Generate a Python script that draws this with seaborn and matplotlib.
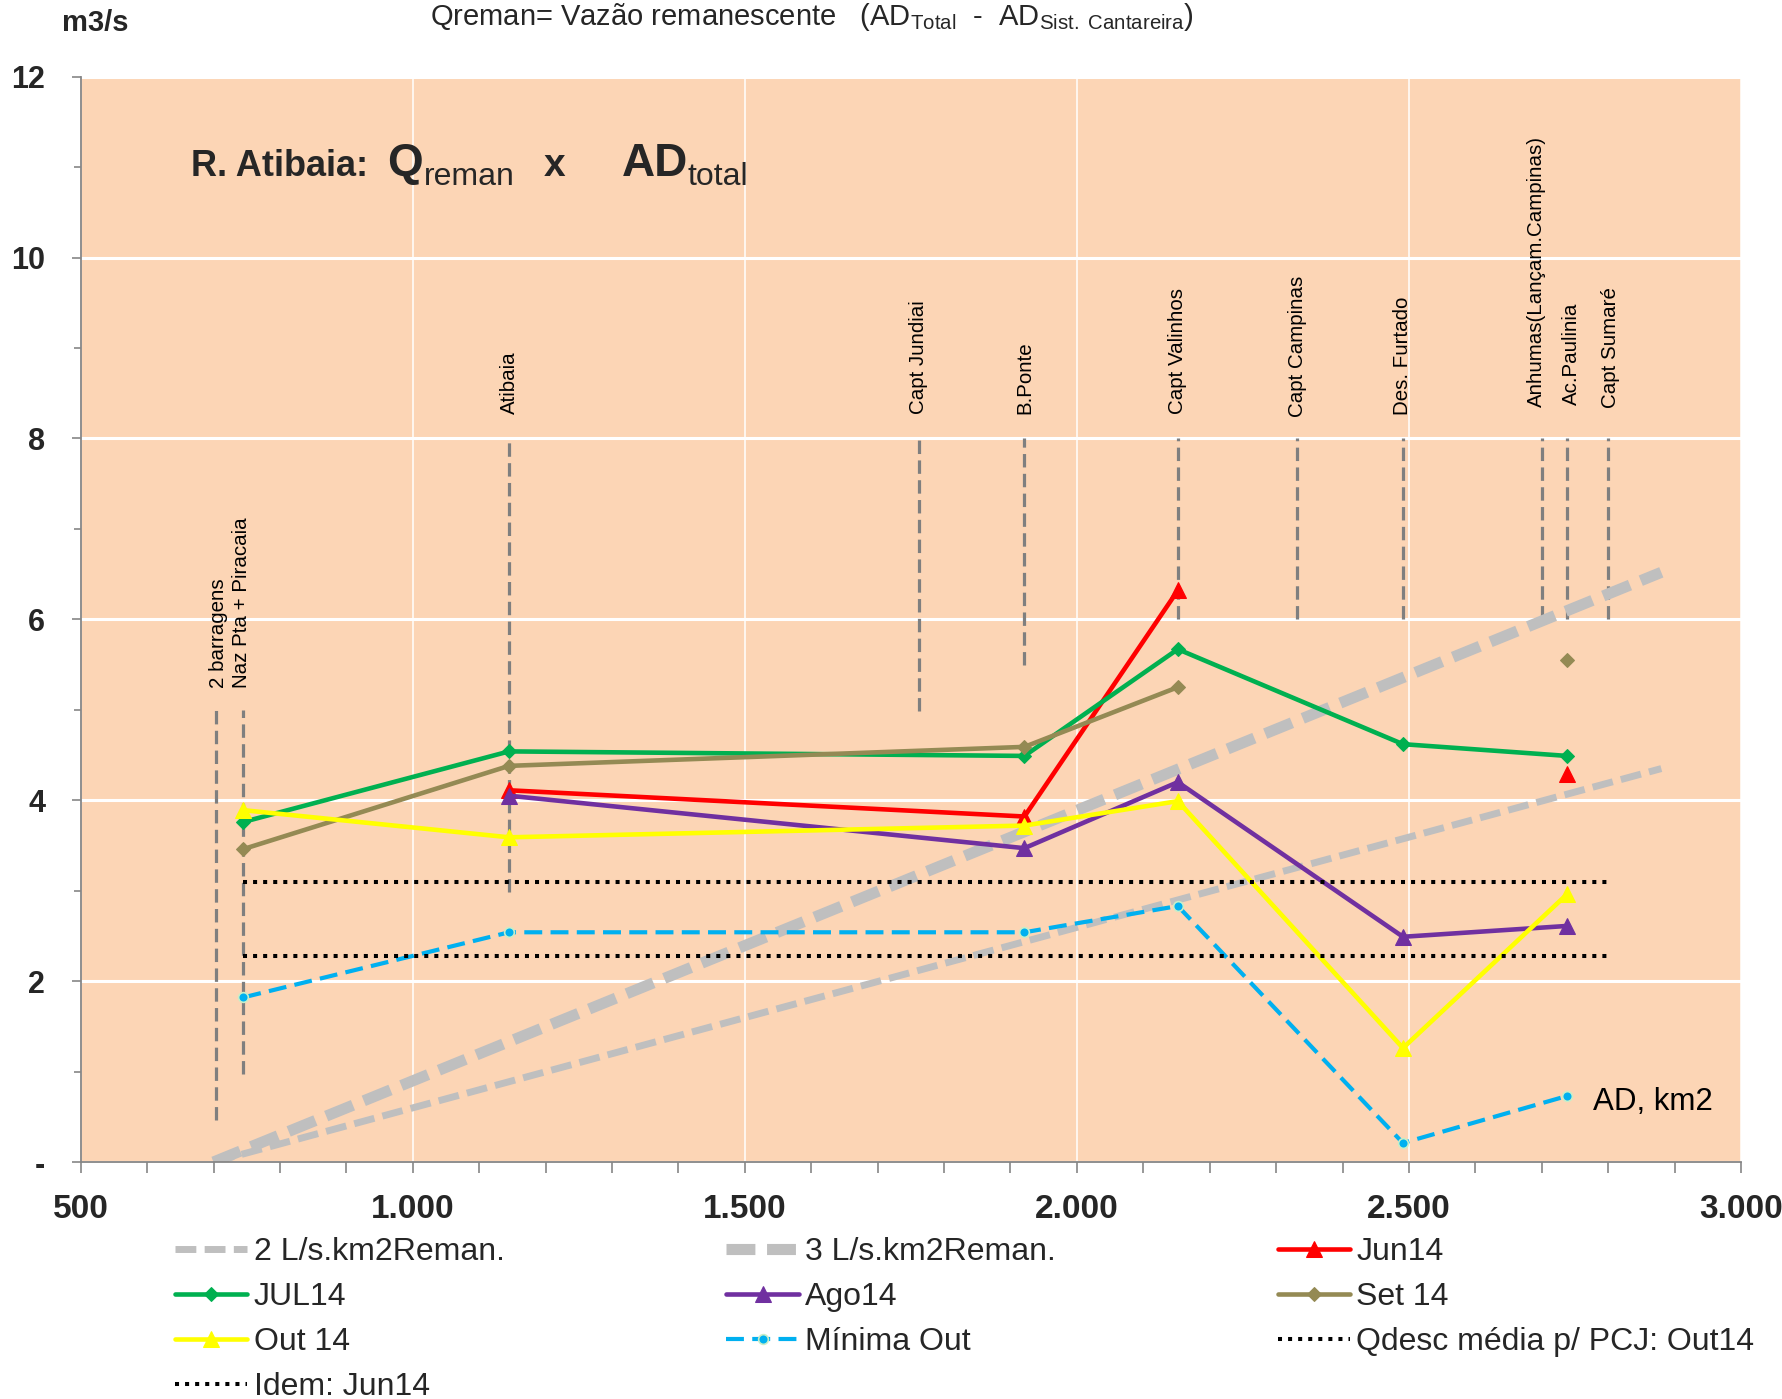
import numpy as np
import pandas as pd
import matplotlib
matplotlib.use("Agg")
import matplotlib.pyplot as plt
from matplotlib import font_manager
from matplotlib.ticker import MultipleLocator, FuncFormatter
import seaborn as sns

# ---------------------------------------------------------------------------
# Data: remaining flow (m3/s) along the Atibaia river vs drainage area (km2)
# ---------------------------------------------------------------------------
# Sampling points: Naz Pta, Atibaia, B.Ponte, Capt Valinhos, Des. Furtado, Ac.Paulinia
ad_points = [745, 1145, 1921, 2152, 2491, 2738]

jun14 = [np.nan, 4.11, 3.82, 6.32, np.nan, 4.29]
jul14 = [3.76, 4.54, 4.49, 5.67, 4.62, 4.49]
ago14 = [np.nan, 4.05, 3.47, 4.20, 2.49, 2.61]
set14 = [3.46, 4.38, 4.59, 5.25, np.nan, 5.55]
out14 = [3.89, 3.59, 3.72, 3.99, 1.26, 2.96]
minima_out = [1.82, 2.54, 2.54, 2.83, 0.21, 0.73]

# Specific-yield reference lines (remaining area)
ref_ad = [700, 2880]
ref_2ls = [0.0, 4.35]
ref_3ls = [0.0, 6.52]

# Mean release to PCJ
qdesc_ad = [745, 2800]
qdesc_out14 = [3.10, 3.10]
qdesc_jun14 = [2.28, 2.28]

# Landmarks along the river (drainage area) and the span of their marker lines
landmark_ad = [704, 745, 1145, 1762, 1921, 2152, 2332, 2491, 2700, 2738, 2800]
landmark_top = [5.0, 5.0, 8.0, 8.0, 8.0, 8.0, 8.0, 8.0, 8.0, 8.0, 8.0]
landmark_bottom = [0.46, 0.97, 2.98, 4.99, 5.49, 6.0, 6.0, 6.0, 6.0, 6.0, 6.0]

landmark_names = ["Atibaia", "Capt Jundiai", "B.Ponte", "Capt Valinhos",
                  "Capt Campinas", "Des. Furtado", "Anhumas(Lançam.Campinas)",
                  "Ac.Paulinia", "Capt Sumaré"]
landmark_label_ad = [1145, 1762, 1921, 2152, 2332, 2491, 2692, 2744, 2803]
landmark_label_y = [8.27, 8.27, 8.27, 8.27, 8.24, 8.26, 8.35, 8.37, 8.34]
dams_label = "2 barragens\nNaz Pta + Piracaia"
dams_label_ad = 725
dams_label_y = 5.24

x_ticks = [500, 1000, 1500, 2000, 2500, 3000]
y_ticks = [0, 2, 4, 6, 8, 10, 12]

# ---------------------------------------------------------------------------
# Style
# ---------------------------------------------------------------------------
sns.set_theme(style="white")


def available(family):
    try:
        font_manager.findfont(font_manager.FontProperties(family=family),
                              fallback_to_default=False)
        return True
    except ValueError:
        return False


BASE = "Liberation Sans" if available("Liberation Sans") else "DejaVu Sans"
NARROW = "Liberation Sans Narrow" if available("Liberation Sans Narrow") else BASE

plt.rcParams["font.family"] = [BASE, "DejaVu Sans"]
plt.rcParams["mathtext.fontset"] = "custom"
plt.rcParams["mathtext.rm"] = BASE
plt.rcParams["mathtext.it"] = BASE + ":italic"
plt.rcParams["mathtext.bf"] = BASE + ":bold"

W, H = 1783, 1399
fig = plt.figure(figsize=(W / 100, H / 100), dpi=100)
fig.patch.set_facecolor("white")


def fx(px):
    return px / W


def fy(py):
    return 1 - py / H


ax_l, ax_r, ax_t, ax_b = 80.7, 1741.0, 76.7, 1162.0
ax = fig.add_axes([fx(ax_l), fy(ax_b), (ax_r - ax_l) / W, (ax_b - ax_t) / H])
ax.set_facecolor("#FCD5B5")

GREY = "#868686"


def draw_series(x, y, label, **style):
    """Draw a series, breaking the line where values are missing."""
    s = pd.Series(y, index=x, dtype=float)
    valid = s.notna()
    runs = (~valid).cumsum()[valid]
    first = True
    for _, seg in s[valid].groupby(runs):
        df = pd.DataFrame({"AD": seg.index.values, "Q": seg.values})
        sns.lineplot(data=df, x="AD", y="Q", ax=ax, estimator=None, sort=False,
                     legend=False, label=label if first else "_nolegend_",
                     **style)
        first = False


# Reference lines
draw_series(ref_ad, ref_2ls, "2 L/s.km2Reman.", color="#BFBFBF", lw=5.0,
            linestyle=(0, (3.0, 1.2)), zorder=2)
draw_series(ref_ad, ref_3ls, "3 L/s.km2Reman.", color="#BFBFBF", lw=8.0,
            linestyle=(0, (2.6, 1.05)), zorder=2)

# Landmark lines
for xa, y0, y1 in zip(landmark_ad, landmark_bottom, landmark_top):
    ax.plot([xa, xa], [y0, y1], color="#7F7F7F", lw=2.3,
            linestyle=(0, (4.2, 2.0)), zorder=1.8)

# Monthly series
draw_series(ad_points, jun14, "Jun14", color="#FF0000", lw=3.3, marker="^",
            markersize=12, markeredgecolor="#FF0000", zorder=3)
draw_series(ad_points, jul14, "JUL14", color="#00B050", lw=3.3, marker="D",
            markersize=7.5, markeredgecolor="#00B050", zorder=3)
draw_series(ad_points, ago14, "Ago14", color="#7030A0", lw=3.3, marker="^",
            markersize=12, markeredgecolor="#7030A0", zorder=3)
draw_series(ad_points, set14, "Set 14", color="#948A54", lw=3.3, marker="D",
            markersize=7.5, markeredgecolor="#948A54", zorder=3)
draw_series(ad_points, out14, "Out 14", color="#FFFF00", lw=3.3, marker="^",
            markersize=11.5, markeredgecolor="#FFFF00", zorder=3)
draw_series(ad_points, minima_out, "Mínima Out", color="#00B0F0", lw=3.0,
            linestyle=(0, (4.3, 2.0)), marker="o", markersize=7,
            markeredgecolor="#C8EEC8", markeredgewidth=1.2, zorder=3)

# Release levels
draw_series(qdesc_ad, qdesc_out14, "Qdesc média p/ PCJ: Out14", color="black",
            lw=2.9, linestyle=(0, (1.0, 1.5)), zorder=3.2)
draw_series(qdesc_ad, qdesc_jun14, "Idem: Jun14", color="black",
            lw=2.9, linestyle=(0, (1.0, 1.5)), zorder=3.2)

# Landmark labels
for name, xa, ya in zip(landmark_names, landmark_label_ad, landmark_label_y):
    ax.text(xa, ya, name, rotation=90, ha="center", va="bottom",
            fontsize=14.8, color="black", zorder=4)
ax.text(dams_label_ad, dams_label_y, dams_label, rotation=90, ha="center",
        va="bottom", fontsize=14.8, color="black", linespacing=1.3,
        multialignment="left", zorder=4)

ax.text(2777, 0.575, "AD, km2", fontsize=22.5, ha="left", va="baseline",
        color="black", zorder=4)

# Axes, grid and ticks
ax.set_xlim(500, 3000)
ax.set_ylim(0, 12)
ax.set_xlabel("")
ax.set_ylabel("")
ax.set_xticks(x_ticks)
ax.set_yticks(y_ticks)
ax.xaxis.set_minor_locator(MultipleLocator(100))
ax.yaxis.set_minor_locator(MultipleLocator(1))
ax.xaxis.set_major_formatter(FuncFormatter(lambda v, p: f"{int(v):,}".replace(",", ".")))
ax.yaxis.set_major_formatter(FuncFormatter(lambda v, p: "-" if v == 0 else f"{int(v)}"))
ax.set_axisbelow(True)
ax.grid(False)
ax.yaxis.grid(True, which="major", color="white", lw=2.2)
ax.xaxis.grid(True, which="major", color="white", lw=1.1)

for side in ["top", "right"]:
    ax.spines[side].set_visible(False)
for side in ["left", "bottom"]:
    ax.spines[side].set_color(GREY)
    ax.spines[side].set_linewidth(1.3)

ax.tick_params(axis="x", which="both", direction="out", bottom=True, length=8,
               width=1.2, color=GREY, pad=15)
ax.tick_params(axis="y", which="major", direction="out", left=True, length=6.5,
               width=1.2, color=GREY, pad=19)
ax.tick_params(axis="y", which="minor", direction="out", left=True, length=5,
               width=1.2, color=GREY)
for lab in ax.get_xticklabels():
    lab.set_fontfamily([NARROW, BASE])
    lab.set_fontweight("bold")
    lab.set_fontsize(24 if NARROW == BASE else 26)
for lab in ax.get_yticklabels():
    lab.set_fontweight("bold")
    lab.set_fontsize(22)

# Headings
fig.text(fx(62), fy(31), "m3/s", fontsize=21, fontweight="bold",
         ha="left", va="baseline")
fig.text(fx(430), fy(25),
         r"Qreman= Vazão remanescente   (AD$_{\mathrm{Total}}$  -  "
         r"AD$_{\mathrm{Sist.\ Cantareira}}$)",
         fontsize=21, ha="left", va="baseline")

fig.text(fx(191), fy(176), "R. Atibaia:", fontsize=26, fontweight="bold",
         ha="left", va="baseline")
fig.text(fx(387), fy(176), "Q", fontsize=33, fontweight="bold",
         ha="left", va="baseline")
fig.text(fx(424), fy(185), "reman", fontsize=23, ha="left", va="baseline")
fig.text(fx(544), fy(176), "x", fontsize=28, fontweight="bold",
         ha="left", va="baseline")
fig.text(fx(622), fy(176), "AD", fontsize=33, fontweight="bold",
         ha="left", va="baseline")
fig.text(fx(688), fy(185), "total", fontsize=23, ha="left", va="baseline")

# Legend (3 columns, filled row by row)
handles, labels = ax.get_legend_handles_labels()
lookup = dict(zip(labels, handles))
order = ["2 L/s.km2Reman.", "JUL14", "Out 14", "Idem: Jun14",
         "3 L/s.km2Reman.", "Ago14", "Mínima Out",
         "Jun14", "Set 14", "Qdesc média p/ PCJ: Out14"]
if ax.get_legend() is not None:
    ax.get_legend().remove()
fig.legend([lookup[k] for k in order], order, loc="upper left",
           bbox_to_anchor=(fx(175), fy(1237)), ncol=3, frameon=False,
           fontsize=23, handlelength=2.26, handletextpad=0.2,
           columnspacing=6.95, labelspacing=0.47, borderpad=0,
           borderaxespad=0)

fig.savefig("out.png", dpi=100, facecolor="white")
